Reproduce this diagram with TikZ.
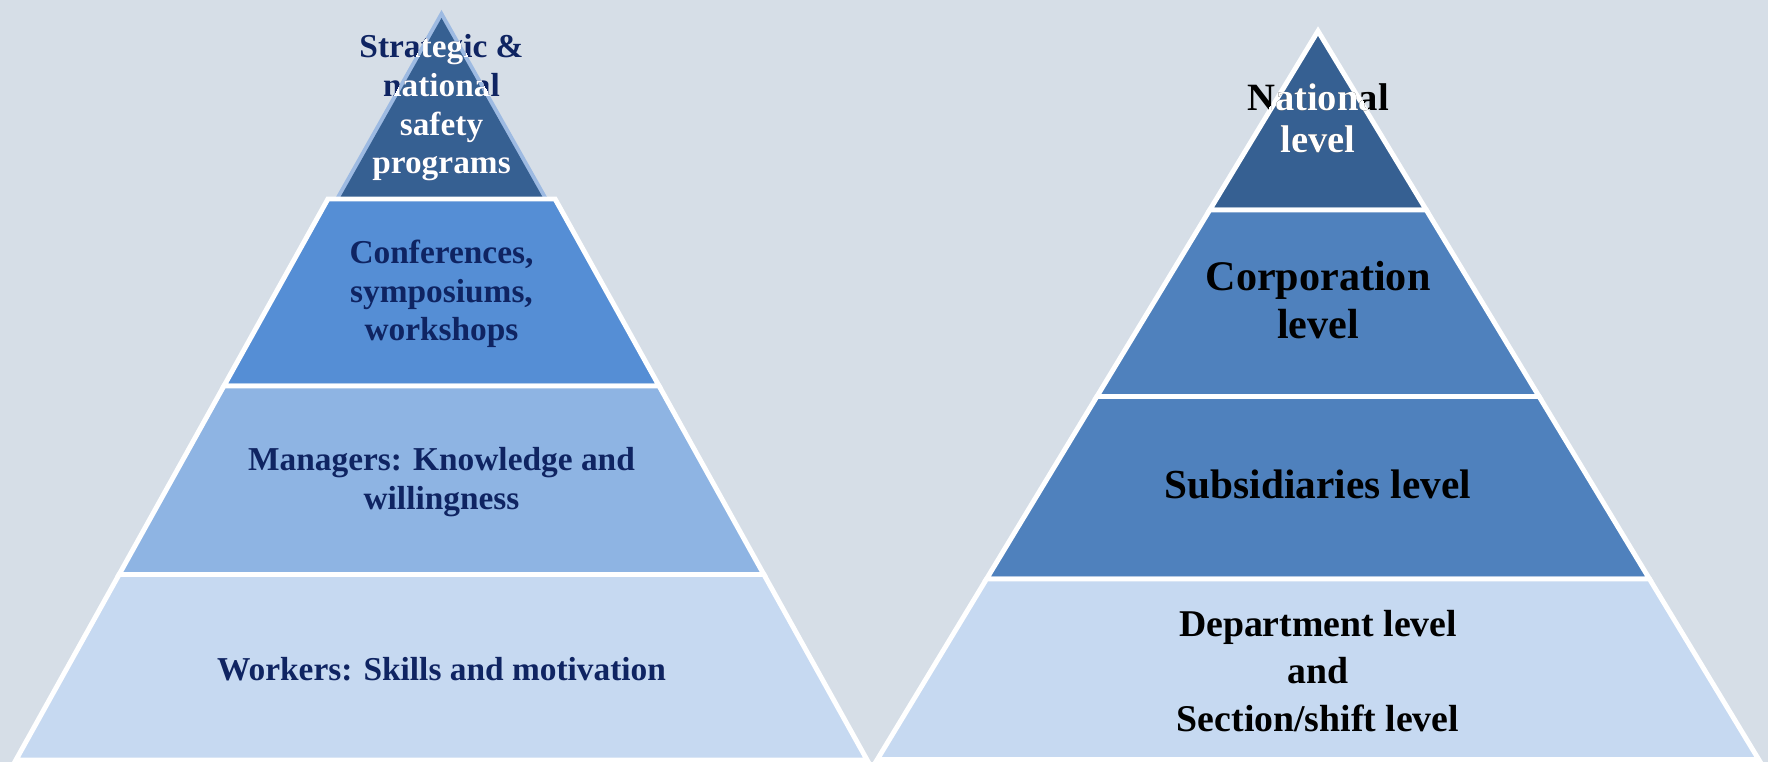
\documentclass[tikz,border=0pt]{standalone}
\usepackage{fontspec}
\setmainfont{Liberation Serif}

\definecolor{bg}{HTML}{D6DEE7}
\definecolor{navy}{HTML}{0F2462}
\definecolor{darkblue}{HTML}{366092}
\definecolor{midblue}{HTML}{558ED5}
\definecolor{softblue}{HTML}{8EB4E3}
\definecolor{paleblue}{HTML}{C6D9F1}
\definecolor{steelblue}{HTML}{4F81BD}
\definecolor{glowblue}{HTML}{9DBAE2}

\tikzset{
	band/.style={draw=white, line width=2.8pt, line join=miter},
	lefttext/.style={align=center, text=navy, font=\fontsize{19}{22}\selectfont\bfseries},
	righttext/.style={align=center, text=black, font=\fontsize{24}{27}\selectfont\bfseries}
}

\begin{document}
\begin{tikzpicture}[x=0.02cm, y=-0.02cm]
	\fill[bg] (0,0) rectangle (1768,762);
	\useasboundingbox (0,0) rectangle (1768,762);

	% left pyramid
	\draw[glowblue, line width=4.5pt, line join=miter] (441.5,18) -- (542.5,197) -- (340.5,197) -- cycle;
	\fill[darkblue] (441.5,18) -- (542.5,197) -- (340.5,197) -- cycle;
	\filldraw[band, fill=midblue] (327.9,199) -- (555.1,199) -- (659.1,386) -- (223.9,386) -- cycle;
	\filldraw[band, fill=softblue] (223.9,386) -- (659.1,386) -- (763.9,574.5) -- (119.1,574.5) -- cycle;
	\filldraw[band, fill=paleblue] (119.1,574.5) -- (763.9,574.5) -- (867.1,760) -- (15.9,760) -- cycle;

	% right pyramid
	\filldraw[band, fill=darkblue] (1318,31) -- (1426.3,210) -- (1209.7,210) -- cycle;
	\filldraw[band, fill=steelblue] (1209.7,210) -- (1426.3,210) -- (1539.1,396.5) -- (1096.9,396.5) -- cycle;
	\filldraw[band, fill=steelblue] (1096.9,396.5) -- (1539.1,396.5) -- (1649.5,579) -- (986.5,579) -- cycle;
	\filldraw[band, fill=paleblue] (986.5,579) -- (1649.5,579) -- (1758.7,759.5) -- (877.3,759.5) -- cycle;

	% left labels
	\begin{scope}[every node/.style={lefttext}]
		\node (strategic) at (441.5,108) {Strategic \&\\national\\safety\\programs};
		\node (conferences) at (441.5,294) {Conferences,\\symposiums,\\workshops};
		\node (managers) at (441.5,482) {Managers: Knowledge and\\willingness};
		\node (workers) at (441.5,669) {Workers: Skills and motivation};
	\end{scope}
	\begin{scope}
		\clip (441.5,9) -- (547,199) -- (336,199) -- cycle;
		\node[lefttext, text=white] (strategicw) at (441.5,108) {Strategic \&\\national\\safety\\programs};
	\end{scope}

	% right labels
	\begin{scope}[every node/.style={righttext}]
		\node[font=\fontsize{22}{24}\selectfont\bfseries] (national) at (1318,118) {National\\level};
		\node (corporation) at (1318,300) {Corporation\\level};
		\node[font=\fontsize{23.5}{27}\selectfont\bfseries] (subsidiaries) at (1318,484) {Subsidiaries level};
		\node[font=\fontsize{21.5}{27}\selectfont\bfseries] (department) at (1318,671) {Department level\\and\\Section/shift level};
	\end{scope}
	\begin{scope}
		\clip (1318,26) -- (1430,212) -- (1206,212) -- cycle;
		\node[righttext, text=white, font=\fontsize{22}{24}\selectfont\bfseries] (nationalw) at (1318,118) {National\\level};
	\end{scope}
\end{tikzpicture}
\end{document}
